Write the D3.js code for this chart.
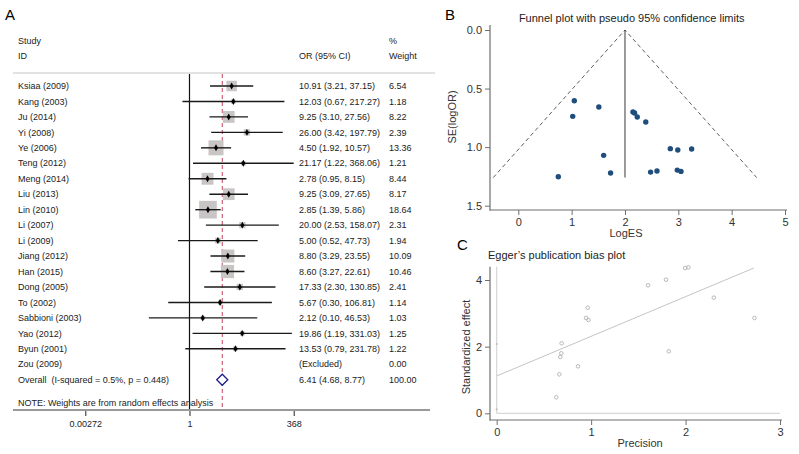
<!DOCTYPE html>
<html>
<head>
<meta charset="utf-8">
<script src="https://cdn.jsdelivr.net/npm/d3@7"></script>
<style>
  body { margin: 0; background: #fff; }
  svg { display: block; font-family: "Liberation Sans", Arial, sans-serif; }
</style>
</head>
<body>
<div id="chart"></div>
<script>
// ---- panel A data (forest plot)
var studies = ["Ksiaa (2009)", "Kang (2003)", "Ju (2014)", "Yi (2008)", "Ye (2006)", "Teng (2012)",
  "Meng (2014)", "Liu (2013)", "Lin (2010)", "Li (2007)", "Li (2009)", "Jiang (2012)", "Han (2015)",
  "Dong (2005)", "To (2002)", "Sabbioni (2003)", "Yao (2012)", "Byun (2001)", "Zou (2009)"];
var orEst = [10.91, 12.03, 9.25, 26.00, 4.50, 21.17, 2.78, 9.25, 2.85, 20.00, 5.00, 8.80, 8.60, 17.33, 5.67, 2.12, 19.86, 13.53, null];
var ciLow = [3.21, 0.67, 3.10, 3.42, 1.92, 1.22, 0.95, 3.09, 1.39, 2.53, 0.52, 3.29, 3.27, 2.30, 0.30, 0.10, 1.19, 0.79, null];
var ciHigh = [37.15, 217.27, 27.56, 197.79, 10.57, 368.06, 8.15, 27.65, 5.86, 158.07, 47.73, 23.55, 22.61, 130.85, 106.81, 46.53, 331.03, 231.78, null];
var weights = [6.54, 1.18, 8.22, 2.39, 13.36, 1.21, 8.44, 8.17, 18.64, 2.31, 1.94, 10.09, 10.46, 2.41, 1.14, 1.03, 1.25, 1.22, 0.00];
var pooled = [6.41, 4.68, 8.77];   // OR, low, high
var pooledWeight = 100;
var forestTicks = [0.00272, 1, 368];

// ---- panel B data (funnel plot)
var funnelES = [1.05, 1.02, 1.51, 1.60, 1.73, 0.75, 2.15, 2.18, 2.23, 2.39, 2.85, 2.99, 3.25, 2.48, 2.60, 2.98, 3.05];
var funnelSE = [0.604, 0.737, 0.658, 1.070, 1.221, 1.253, 0.700, 0.709, 0.743, 0.786, 1.013, 1.025, 1.016, 1.213, 1.204, 1.196, 1.207];
var funnelCenter = 2.0;
var funnelMaxSE = 1.26;
var funnelXTicks = [0, 1, 2, 3, 4, 5];
var funnelYTicks = [0, 0.5, 1, 1.5];

// ---- panel C data (Egger plot)
var eggerPrec = [0.631, 0.663, 0.674, 0.684, 0.688, 0.861, 0.964, 0.946, 0.971, 1.603, 1.793, 1.822, 1.995, 2.03, 2.299, 2.73];
var eggerStd = [0.48, 1.17, 1.69, 1.80, 2.10, 1.41, 3.17, 2.86, 2.80, 3.84, 4.01, 1.86, 4.36, 4.38, 3.47, 2.86];
var eggerIntercept = [0.12, 2.08];   // CI ends drawn at precision 0
var eggerFit = [1.12, 1.19];          // intercept, slope
var eggerXTicks = [0, 1, 2, 3];
var eggerYTicks = [0, 2, 4];

var svg = d3.select("#chart").append("svg")
  .attr("width", 799)
  .attr("height", 454);

// ================= Panel A =================
var xA = d3.scaleLog().domain([0.00272, 368]).range([85.3, 293.7]);
var yA = d3.scaleLinear().domain([0, 19]).range([86, 86 + 19 * 15.46]);
var fmt = d3.format(".2f");
var fsA = "9px";

svg.append("text").attr("x", 5).attr("y", 20).attr("font-size", "15px").text("A");

var head = svg.append("g").attr("font-size", fsA).attr("fill", "#222");
head.append("text").attr("x", 18).attr("y", 44).text("Study");
head.append("text").attr("x", 18).attr("y", 59).text("ID");
head.append("text").attr("x", 299).attr("y", 59).text("OR (95% CI)");
head.append("text").attr("x", 389).attr("y", 44).text("%");
head.append("text").attr("x", 389).attr("y", 59).text("Weight");

svg.append("line").attr("x1", 13).attr("x2", 435).attr("y1", 73).attr("y2", 73)
  .attr("stroke", "#e2e2e2").attr("stroke-width", 2);

// null line and pooled line
svg.append("line").attr("x1", xA(1)).attr("x2", xA(1)).attr("y1", 74).attr("y2", 410)
  .attr("stroke", "#111").attr("stroke-width", 1.2);
svg.append("line").attr("x1", xA(pooled[0])).attr("x2", xA(pooled[0])).attr("y1", 74).attr("y2", 410)
  .attr("stroke", "#c4405a").attr("stroke-width", 1).attr("stroke-dasharray", "4,3");

var rows = studies.map(function(s, i) {
  return {name: s, or: orEst[i], lo: ciLow[i], hi: ciHigh[i], w: weights[i], i: i};
});
var valid = rows.filter(function(d) { return d.or !== null; });

var gA = svg.append("g");
gA.selectAll(".box").data(valid).enter().append("rect")
  .attr("class", "box")
  .attr("x", function(d) { return xA(d.or) - 2.05 * Math.sqrt(d.w); })
  .attr("y", function(d) { return yA(d.i) - 2.05 * Math.sqrt(d.w); })
  .attr("width", function(d) { return 4.1 * Math.sqrt(d.w); })
  .attr("height", function(d) { return 4.1 * Math.sqrt(d.w); })
  .attr("fill", "#c9c5c5");
gA.selectAll(".ci").data(valid).enter().append("line")
  .attr("class", "ci")
  .attr("x1", function(d) { return xA(d.lo); })
  .attr("x2", function(d) { return xA(d.hi); })
  .attr("y1", function(d) { return yA(d.i); })
  .attr("y2", function(d) { return yA(d.i); })
  .attr("stroke", "#1a1a1a").attr("stroke-width", 1.4);
gA.selectAll(".pt").data(valid).enter().append("path")
  .attr("class", "pt")
  .attr("transform", function(d) { return "translate(" + xA(d.or) + "," + yA(d.i) + ")"; })
  .attr("d", d3.symbol().type(d3.symbolDiamond).size(14))
  .attr("fill", "#000");

var txt = svg.append("g").attr("font-size", fsA).attr("fill", "#222");
txt.selectAll(".nm").data(rows).enter().append("text")
  .attr("x", 18).attr("y", function(d) { return yA(d.i); }).attr("dy", "0.35em")
  .text(function(d) { return d.name; });
txt.selectAll(".est").data(rows).enter().append("text")
  .attr("x", 299).attr("y", function(d) { return yA(d.i); }).attr("dy", "0.35em")
  .text(function(d) {
    return d.or === null ? "(Excluded)" : fmt(d.or) + " (" + fmt(d.lo) + ", " + fmt(d.hi) + ")";
  });
txt.selectAll(".wt").data(rows).enter().append("text")
  .attr("x", 389).attr("y", function(d) { return yA(d.i); }).attr("dy", "0.35em")
  .text(function(d) { return fmt(d.w); });

// overall row
var yo = yA(19);
txt.append("text").attr("x", 18).attr("y", yo).attr("dy", "0.35em")
  .attr("xml:space", "preserve")
  .text("Overall  (I-squared = 0.5%, p = 0.448)");
txt.append("text").attr("x", 299).attr("y", yo).attr("dy", "0.35em")
  .text(fmt(pooled[0]) + " (" + fmt(pooled[1]) + ", " + fmt(pooled[2]) + ")");
txt.append("text").attr("x", 389).attr("y", yo).attr("dy", "0.35em").text(fmt(pooledWeight));
svg.append("path")
  .attr("d", "M" + xA(pooled[1]) + "," + yo + "L" + xA(pooled[0]) + "," + (yo - 5.5) +
    "L" + xA(pooled[2]) + "," + yo + "L" + xA(pooled[0]) + "," + (yo + 5.5) + "Z")
  .attr("fill", "#fff").attr("stroke", "#1c1c8a").attr("stroke-width", 1.3);

txt.append("text").attr("x", 18).attr("y", 403).attr("dy", "0.35em")
  .text("NOTE: Weights are from random effects analysis");

// x axis of forest plot
var axA = svg.append("g").attr("transform", "translate(0,410)")
  .call(d3.axisBottom(xA).tickValues(forestTicks).tickSize(6).tickFormat(function(d) { return String(d); }));
axA.select(".domain").remove();
axA.selectAll(".tick line").attr("stroke", "#222");
axA.selectAll(".tick text").attr("font-size", fsA).attr("fill", "#222")
  .attr("font-family", "Liberation Sans, Arial, sans-serif").attr("y", 11);
svg.append("line").attr("x1", 13).attr("x2", 430).attr("y1", 410).attr("y2", 410)
  .attr("stroke", "#9a9a9a").attr("stroke-width", 2);

// ================= Panel B =================
var xB = d3.scaleLinear().domain([0, 5]).range([518.3, 785]);
var yB = d3.scaleLinear().domain([0, 1.5]).range([30, 205.7]);
var axisCol = "#6e6e6e";

svg.append("text").attr("x", 445).attr("y", 20).attr("font-size", "15px").text("B");
svg.append("text").attr("x", 631.7).attr("y", 22).attr("text-anchor", "middle")
  .attr("font-size", "11px").attr("fill", "#222")
  .text("Funnel plot with pseudo 95% confidence limits");

var ayB = svg.append("g").attr("transform", "translate(490,0)")
  .call(d3.axisLeft(yB).tickValues(funnelYTicks).tickSize(5).tickFormat(d3.format(".1f")));
var axB = svg.append("g").attr("transform", "translate(0,210)")
  .call(d3.axisBottom(xB).tickValues(funnelXTicks).tickSize(5).tickFormat(d3.format("d")));
[ayB, axB, ].forEach(function(g) {
  g.select(".domain").remove();
  g.selectAll(".tick line").attr("stroke", axisCol);
  g.selectAll(".tick text").attr("font-size", "11px").attr("fill", "#333")
    .attr("font-family", "Liberation Sans, Arial, sans-serif");
});
svg.append("line").attr("x1", 490).attr("x2", 490).attr("y1", 25).attr("y2", 210.5)
  .attr("stroke", axisCol).attr("stroke-width", 1.2);
svg.append("line").attr("x1", 489.5).attr("x2", 787).attr("y1", 210).attr("y2", 210)
  .attr("stroke", axisCol).attr("stroke-width", 1.2);

svg.append("text").attr("transform", "translate(456,117) rotate(-90)")
  .attr("text-anchor", "middle").attr("font-size", "11px").attr("fill", "#333").text("SE(logOR)");
svg.append("text").attr("x", 626).attr("y", 237).attr("text-anchor", "middle")
  .attr("font-size", "11px").attr("fill", "#333").text("LogES");

// funnel lines
svg.append("line")
  .attr("x1", xB(funnelCenter)).attr("x2", xB(funnelCenter))
  .attr("y1", yB(0)).attr("y2", yB(funnelMaxSE))
  .attr("stroke", "#666").attr("stroke-width", 1.3);
var funnelPts = [[funnelCenter - 1.96 * funnelMaxSE, funnelMaxSE], [funnelCenter, 0], [funnelCenter + 1.96 * funnelMaxSE, funnelMaxSE]];
svg.append("path")
  .attr("d", d3.line().x(function(d) { return xB(d[0]); }).y(function(d) { return yB(d[1]); })(funnelPts))
  .attr("fill", "none").attr("stroke", "#333").attr("stroke-width", 0.8).attr("stroke-dasharray", "4,3");

svg.append("g").selectAll("circle").data(funnelES).enter().append("circle")
  .attr("cx", function(d) { return xB(d); })
  .attr("cy", function(d, i) { return yB(funnelSE[i]); })
  .attr("r", 2.7)
  .attr("fill", "#1f4e7c");

// ================= Panel C =================
var xC = d3.scaleLinear().domain([0, 3]).range([496.7, 780]);
var yC = d3.scaleLinear().domain([0, 4]).range([413.3, 280]);

svg.append("text").attr("x", 457).attr("y", 250).attr("font-size", "15px").text("C");
svg.append("text").attr("x", 488).attr("y", 259)
  .attr("font-size", "11px").attr("fill", "#222").text("Egger\u2019s publication bias plot");

var ayC = svg.append("g").attr("transform", "translate(490,0)")
  .call(d3.axisLeft(yC).tickValues(eggerYTicks).tickSize(5).tickFormat(d3.format("d")));
var axC = svg.append("g").attr("transform", "translate(0,420)")
  .call(d3.axisBottom(xC).tickValues(eggerXTicks).tickSize(5).tickFormat(d3.format("d")));
[ayC, axC].forEach(function(g) {
  g.select(".domain").remove();
  g.selectAll(".tick line").attr("stroke", axisCol);
  g.selectAll(".tick text").attr("font-size", "11px").attr("fill", "#333")
    .attr("font-family", "Liberation Sans, Arial, sans-serif");
});
svg.append("line").attr("x1", 490).attr("x2", 490).attr("y1", 266.7).attr("y2", 420.5)
  .attr("stroke", axisCol).attr("stroke-width", 1.2);
svg.append("line").attr("x1", 489.5).attr("x2", 782).attr("y1", 420).attr("y2", 420)
  .attr("stroke", axisCol).attr("stroke-width", 1.2);

svg.append("text").attr("transform", "translate(470,347) rotate(-90)")
  .attr("text-anchor", "middle").attr("font-size", "11px").attr("fill", "#333").text("Standardized effect");
svg.append("text").attr("x", 640).attr("y", 447).attr("text-anchor", "middle")
  .attr("font-size", "11px").attr("fill", "#333").text("Precision");

// reference lines at zero
svg.append("line").attr("x1", xC(0)).attr("x2", xC(0)).attr("y1", 266.7).attr("y2", yC(0))
  .attr("stroke", "#cfcfcf").attr("stroke-width", 1);
svg.append("line").attr("x1", xC(0)).attr("x2", xC(3)).attr("y1", yC(0)).attr("y2", yC(0))
  .attr("stroke", "#cfcfcf").attr("stroke-width", 1);

// regression line
svg.append("line")
  .attr("x1", xC(0)).attr("y1", yC(eggerFit[0]))
  .attr("x2", xC(2.72)).attr("y2", yC(eggerFit[0] + eggerFit[1] * 2.72))
  .attr("stroke", "#c4c4c4").attr("stroke-width", 1);

svg.append("g").selectAll("circle").data(eggerIntercept).enter().append("circle")
  .attr("cx", xC(0)).attr("cy", function(d) { return yC(d); })
  .attr("r", 1).attr("fill", "#bbb");

svg.append("g").selectAll("circle").data(eggerPrec).enter().append("circle")
  .attr("cx", function(d) { return xC(d); })
  .attr("cy", function(d, i) { return yC(eggerStd[i]); })
  .attr("r", 1.8)
  .attr("fill", "none").attr("stroke", "#a8a8a8").attr("stroke-width", 0.8);
</script>
</body>
</html>
